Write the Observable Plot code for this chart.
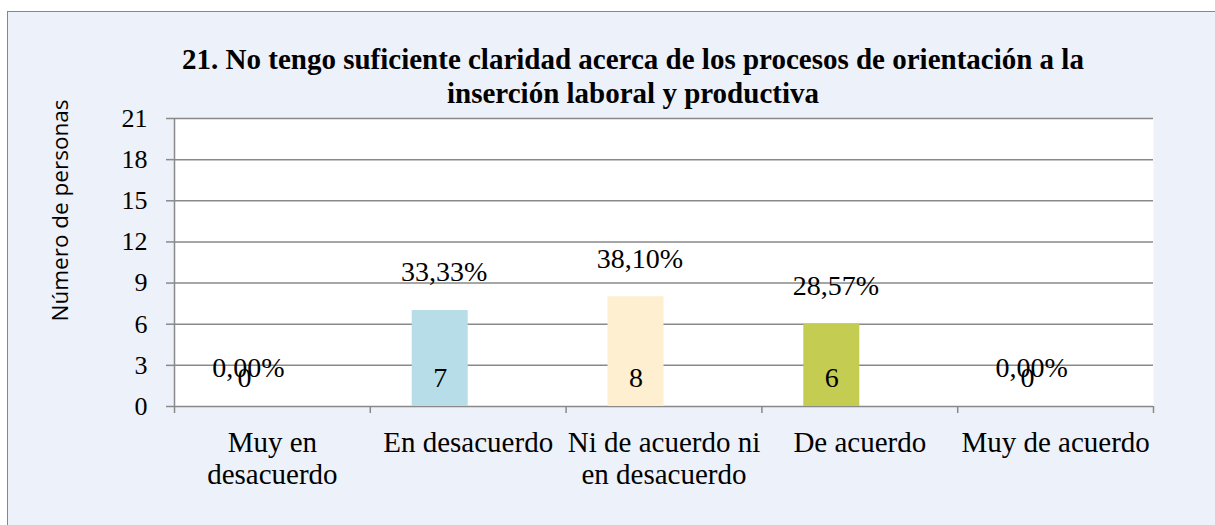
<!DOCTYPE html>
<html><head><meta charset="utf-8">
<script src="https://cdn.jsdelivr.net/npm/d3@7"></script>
<script src="https://cdn.jsdelivr.net/npm/@observablehq/plot@0.6"></script>
<style>
html,body{margin:0;padding:0;background:#fff;width:1215px;height:525px;overflow:hidden;position:relative;}
#frame{position:absolute;left:7px;top:11px;width:1270px;height:530px;border:1px solid #878787;background:#EDF1F9;box-sizing:border-box;}
#title{position:absolute;left:0;top:42px;width:1266px;text-align:center;font-family:"Liberation Serif",serif;font-weight:bold;font-size:29px;line-height:34px;color:#000;}
#chart{position:absolute;left:0;top:0;}
</style>
</head>
<body>
<div id="frame"></div>
<div id="title">21. No tengo suficiente claridad acerca de los procesos de orientación a la<br>inserción laboral y productiva</div>
<div id="chart"></div>
<script>
const categories = ["Muy en\ndesacuerdo", "En desacuerdo", "Ni de acuerdo ni\nen desacuerdo", "De acuerdo", "Muy de acuerdo"];
const counts = [0, 7, 8, 6, 0];
const percents = ["0,00%", "33,33%", "38,10%", "28,57%", "0,00%"];
const yTicks = [0, 3, 6, 9, 12, 15, 18, 21];
const yTitle = "Número de personas";

const barColors = ["#B7DDE8", "#B7DDE8", "#FDEFD0", "#C4CC52", "#C4CC52"];
const grey = "#898989";
const serif = "Liberation Serif, Times New Roman, serif";
const barHalf = 0.286;

const rows = categories.map((c, i) => ({cat: c, idx: i, count: counts[i], pct: percents[i]}));
const barMid = d => d.idx + 0.5 - barHalf / 2;

const chart = Plot.plot({
  width: 1215, height: 525,
  marginLeft: 174, marginRight: 62, marginTop: 118, marginBottom: 119,
  style: {background: "transparent", fontFamily: serif, color: "#000"},
  x: {domain: [0, 5], axis: null},
  y: {domain: [0, 21], axis: null},
  color: {domain: categories, range: barColors},
  marks: [
    Plot.frame({fill: "white", stroke: "none"}),
    Plot.ruleY(yTicks, {stroke: grey, strokeWidth: 1.5}),
    Plot.rectY(rows, {x1: d => d.idx + 0.5 - barHalf, x2: d => d.idx + 0.5, y: "count", fill: "cat"}),
    Plot.ruleX([0], {stroke: grey, strokeWidth: 1.5}),
    Plot.axisY({ticks: yTicks, tickSize: 8, tickPadding: 19, tickFormat: d => String(d), label: null,
      stroke: grey, strokeWidth: 1.5, fill: "#000", fontSize: 26, fontFamily: serif}),
    Plot.axisX({ticks: [0, 1, 2, 3, 4, 5], tickSize: 7, tickFormat: () => "", label: null,
      stroke: grey, strokeWidth: 1.5}),
    Plot.text(rows, {x: d => d.idx + 0.5, text: "cat", frameAnchor: "bottom", lineAnchor: "top",
      dy: 23, lineHeight: 1.1, fontSize: 29, fill: "#000", fontFamily: serif}),
    Plot.text(rows, {x: barMid, y: "count", text: "pct", dy: -38, dx: 4, fontSize: 28, fill: "#000", fontFamily: serif}),
    Plot.text(rows, {x: barMid, y: 0, text: d => String(d.count), dy: -28, fontSize: 28, fill: "#000", fontFamily: serif}),
    Plot.text([yTitle], {frameAnchor: "left", textAnchor: "middle", rotate: -90, dx: -114, dy: -52,
      fontSize: 22.5, fill: "#000", fontFamily: "Open Sans"})
  ]
});
document.getElementById("chart").appendChild(chart);
</script>
</body></html>
